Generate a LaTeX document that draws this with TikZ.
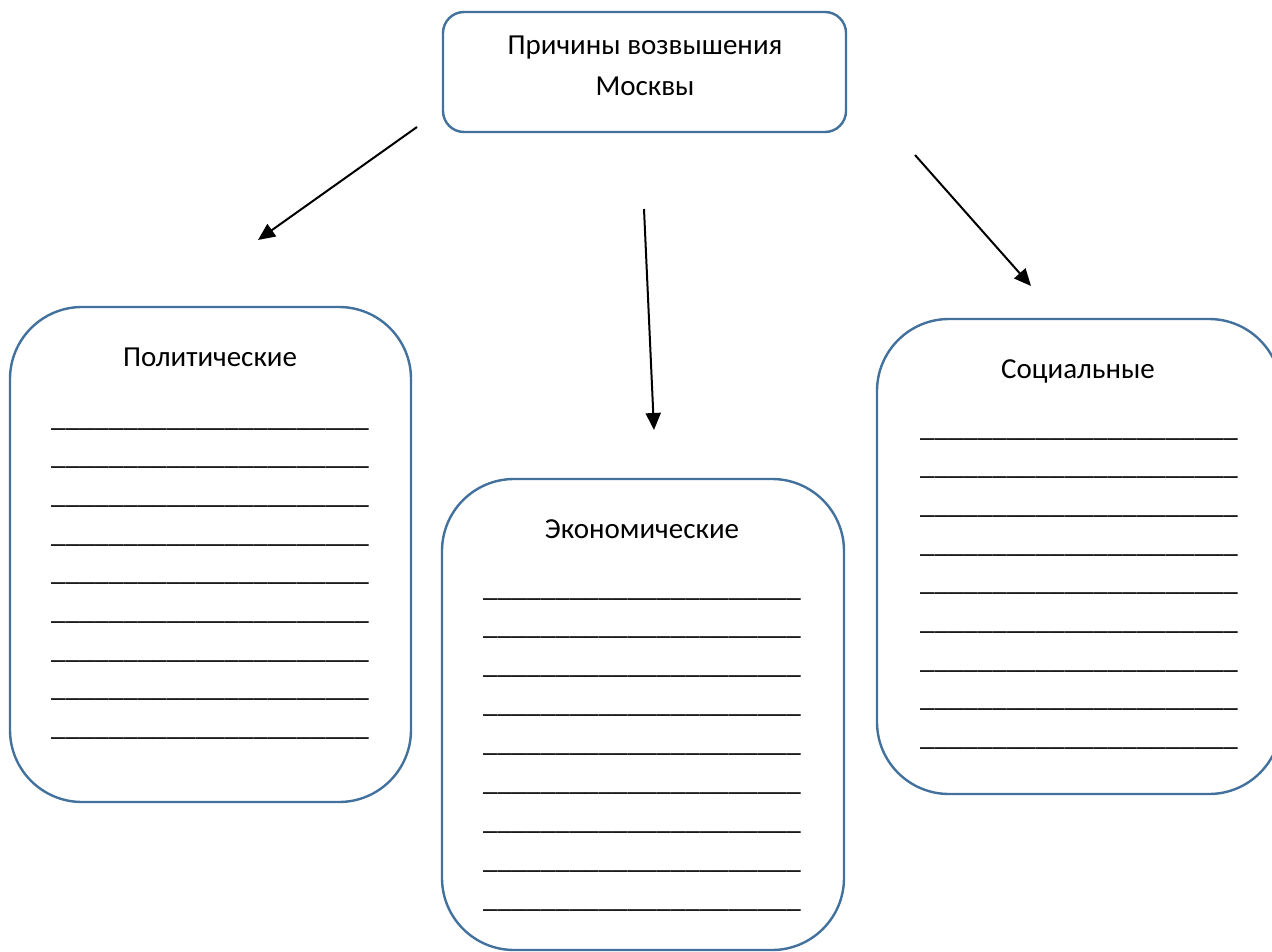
\documentclass[tikz,border=0pt]{standalone}
\usepackage{fontspec}
\setmainfont{Carlito}
\usetikzlibrary{arrows.meta}
\definecolor{boxblue}{RGB}{65,113,156}
\newcommand{\blankline}{\_\_\_\_\_\_\_\_\_\_\_\_\_\_\_\_\_\_\_\_\_\_}
\begin{document}
\begin{tikzpicture}[x=1pt,y=-1pt,
  rbox/.style={draw=boxblue,line width=2.4pt,rounded corners=#1},
  lbl/.style={anchor=base,inner sep=0pt,font=\fontsize{29}{39}\selectfont},
  arr/.style={line width=2pt,-{Triangle[length=17pt,width=15pt]}}]
\useasboundingbox (0,0) rectangle (1272,952);
\clip (0,0) rectangle (1272,952);
\fill[white] (0,0) rectangle (1272,952);
% boxes
\draw[rbox=21pt] (443,12) rectangle (846,132);
\draw[rbox=72pt] (10,307) rectangle (411,802);
\draw[rbox=72pt] (442,479) rectangle (844,950);
\draw[rbox=72pt] (877,319) rectangle (1281,794);
% titles
\node[lbl] (top1) at (645,55) {Причины возвышения};
\node[lbl] (top2) at (645,96) {Москвы};
\node[lbl] (pol) at (210,366) {Политические};
\node[lbl] (eco) at (642,538) {Экономические};
\node[lbl] (soc) at (1078,378) {Социальные};
% blank lines
\foreach \i in {0,...,8}{
  \node[lbl] (pl\i) at (210,{426+38.7*\i}) {\blankline};
  \node[lbl] (el\i) at (642,{596+38.9*\i}) {\blankline};
  \node[lbl] (sl\i) at (1079,{436+38.7*\i}) {\blankline};
}
% arrows
\coordinate (a1s) at (417,127); \coordinate (a1e) at (258,240);
\coordinate (a2s) at (644,209); \coordinate (a2e) at (654,430);
\coordinate (a3s) at (915,155); \coordinate (a3e) at (1031,286);
\draw[arr] (a1s) -- (a1e);
\draw[arr] (a2s) -- (a2e);
\draw[arr] (a3s) -- (a3e);
\end{tikzpicture}
\end{document}
